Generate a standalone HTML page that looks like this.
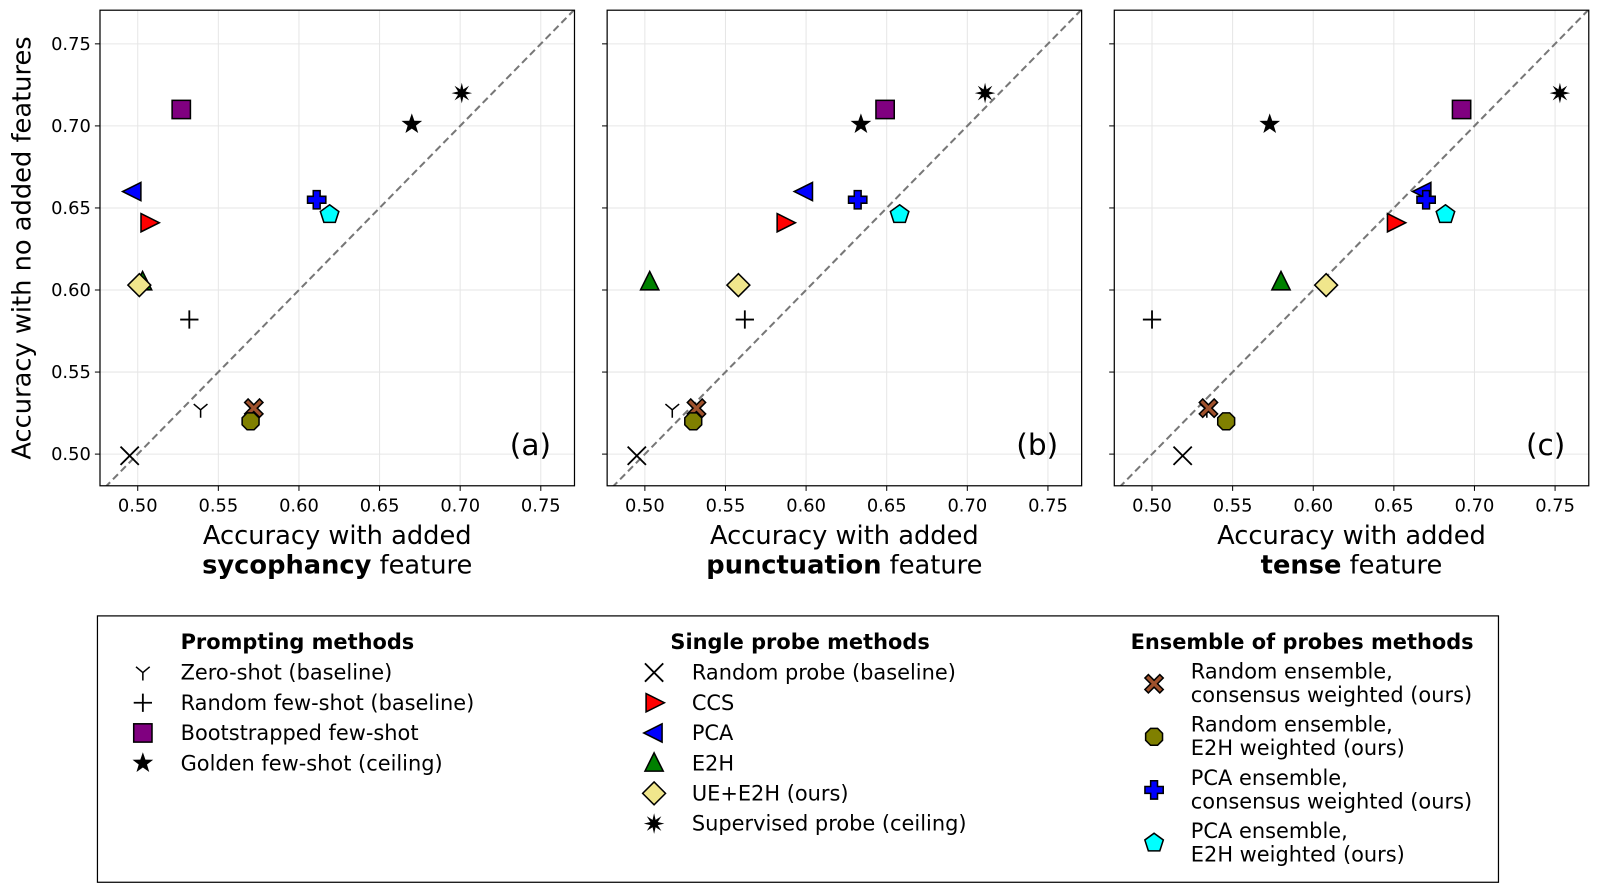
<!DOCTYPE html>
<html><head><meta charset="utf-8">
<style>
body{margin:0;background:#fff;}
svg{display:block;font-family:"DejaVu Sans","Liberation Sans",sans-serif;}
</style></head>
<body>
<svg id="c" width="1600" height="894" viewBox="0 0 1568 876" preserveAspectRatio="none" xmlns="http://www.w3.org/2000/svg"></svg>
<script>
const methods = ["zero","fewshot","boot","golden","randprobe","ccs","pca","e2h","uee2h","sup","randens_c","randens_e","pcaens_c","pcaens_e"];
const panelTitles = ["sycophancy","punctuation","tense"];
const panelTags = ["(a)","(b)","(c)"];
const xsA = [0.539,0.532,0.527,0.670,0.495,0.507,0.497,0.503,0.501,0.701,0.572,0.570,0.611,0.619];
const ysA = [0.527,0.582,0.710,0.701,0.499,0.641,0.660,0.605,0.603,0.720,0.528,0.520,0.655,0.646];
const xsB = [0.517,0.562,0.649,0.634,0.495,0.587,0.599,0.503,0.558,0.711,0.532,0.530,0.632,0.658];
const ysB = [0.527,0.582,0.710,0.701,0.499,0.641,0.660,0.605,0.603,0.720,0.528,0.520,0.655,0.646];
const xsC = [0.534,0.500,0.692,0.573,0.519,0.651,0.668,0.580,0.608,0.753,0.535,0.546,0.670,0.682];
const ysC = [0.527,0.582,0.710,0.701,0.499,0.641,0.660,0.605,0.603,0.720,0.528,0.520,0.655,0.646];
const ticks = [0.50,0.55,0.60,0.65,0.70,0.75];
const tickLabels = ["0.50","0.55","0.60","0.65","0.70","0.75"];

const NS="http://www.w3.org/2000/svg";
const svg=document.getElementById('c');
function mk(tag,attrs,parent){const e=document.createElementNS(NS,tag);for(const k in attrs)e.setAttribute(k,attrs[k]);(parent||svg).appendChild(e);return e;}
function txt(s,attrs,parent){const e=mk('text',attrs,parent);e.textContent=s;return e;}

function poly(pts){return pts.map(p=>p.join(',')).join(' ');}
function marker(type,cx,cy,g,s){
  s=s||1.12;
  const st={stroke:'#000','stroke-width':1.5};
  let e;
  if(type==='zero'){
    e=mk('path',{d:`M${cx},${cy} L${cx},${cy+7*s} M${cx},${cy} L${cx-6*s},${cy-5*s} M${cx},${cy} L${cx+6*s},${cy-5*s}`,stroke:'#000','stroke-width':1.5,fill:'none'},g);
  }else if(type==='fewshot'){
    e=mk('path',{d:`M${cx-8*s},${cy} L${cx+8*s},${cy} M${cx},${cy-8*s} L${cx},${cy+8*s}`,stroke:'#000','stroke-width':1.8,fill:'none'},g);
  }else if(type==='boot'){
    e=mk('rect',Object.assign({x:cx-8*s,y:cy-8*s,width:16*s,height:16*s,fill:'#800080'},st),g);
  }else if(type==='golden'){
    const p=[];for(let i=0;i<10;i++){const r=i%2?3.8*s:9.5*s;const a=-Math.PI/2+i*Math.PI/5;p.push([cx+r*Math.cos(a),cy+r*Math.sin(a)]);}
    e=mk('polygon',{points:poly(p),fill:'#000'},g);
  }else if(type==='randprobe'){
    e=mk('path',{d:`M${cx-8*s},${cy-8*s} L${cx+8*s},${cy+8*s} M${cx-8*s},${cy+8*s} L${cx+8*s},${cy-8*s}`,stroke:'#000','stroke-width':1.8,fill:'none'},g);
  }else if(type==='ccs'){
    e=mk('polygon',Object.assign({points:poly([[cx-7*s,cy-8*s],[cx+9*s,cy],[cx-7*s,cy+8*s]]),fill:'#ff0000'},st),g);
  }else if(type==='pca'){
    e=mk('polygon',Object.assign({points:poly([[cx+7*s,cy-8*s],[cx-9*s,cy],[cx+7*s,cy+8*s]]),fill:'#0000ff'},st),g);
  }else if(type==='e2h'){
    e=mk('polygon',Object.assign({points:poly([[cx-8*s,cy+7*s],[cx,cy-9*s],[cx+8*s,cy+7*s]]),fill:'#008000'},st),g);
  }else if(type==='uee2h'){
    e=mk('polygon',Object.assign({points:poly([[cx,cy-10*s],[cx+10*s,cy],[cx,cy+10*s],[cx-10*s,cy]]),fill:'#f0e68c'},st),g);
  }else if(type==='sup'){
    const p=[];for(let i=0;i<16;i++){const r=i%2?3.5*s:9*s;const a=-Math.PI/2+i*Math.PI/8;p.push([cx+r*Math.cos(a),cy+r*Math.sin(a)]);}
    e=mk('polygon',{points:poly(p),fill:'#000'},g);
  }else if(type==='randens_c'){
    const a=3*s,b=8*s;
    e=mk('path',Object.assign({d:`M${cx},${cy-a} L${cx+b-a},${cy-b} L${cx+b},${cy-b+a} L${cx+a},${cy} L${cx+b},${cy+b-a} L${cx+b-a},${cy+b} L${cx},${cy+a} L${cx-b+a},${cy+b} L${cx-b},${cy+b-a} L${cx-a},${cy} L${cx-b},${cy-b+a} L${cx-b+a},${cy-b} Z`,fill:'#a0522d'},st),g);
  }else if(type==='randens_e'){
    const p=[];for(let i=0;i<8;i++){const a=Math.PI/8+i*Math.PI/4;p.push([cx+8*s*Math.cos(a),cy+8*s*Math.sin(a)]);}
    e=mk('polygon',Object.assign({points:poly(p),fill:'#808000'},st),g);
  }else if(type==='pcaens_c'){
    const a=3*s,b=8*s;
    e=mk('path',Object.assign({d:`M${cx-a},${cy-b} L${cx+a},${cy-b} L${cx+a},${cy-a} L${cx+b},${cy-a} L${cx+b},${cy+a} L${cx+a},${cy+a} L${cx+a},${cy+b} L${cx-a},${cy+b} L${cx-a},${cy+a} L${cx-b},${cy+a} L${cx-b},${cy-a} L${cx-a},${cy-a} Z`,fill:'#0000ff'},st),g);
  }else if(type==='pcaens_e'){
    const p=[];for(let i=0;i<5;i++){const a=-Math.PI/2+i*2*Math.PI/5;p.push([cx+8.5*s*Math.cos(a),cy+8.5*s*Math.sin(a)]);}
    e=mk('polygon',Object.assign({points:poly(p),fill:'#00ffff'},st),g);
  }
  
  
  return e;
}

const panels=[{x0:98,xs:xsA,ys:ysA},{x0:595,xs:xsB,ys:ysB},{x0:1092,xs:xsC,ys:ysC}];
const PW=465, PT=10, PB=476;
const XMIN=0.4766, XMAX=0.7709, YMIN=0.4807, YMAX=0.7705;
panels.forEach((p,pi)=>{
  const g=mk('g',{});
  
  
  const X=v=>p.x0+(v-XMIN)/(XMAX-XMIN)*PW;
  const Y=v=>PB-(v-YMIN)/(YMAX-YMIN)*(PB-PT);
  const clipId='clip'+pi;
  const cp=mk('clipPath',{id:clipId},g);mk('rect',{x:p.x0,y:PT,width:PW,height:PB-PT},cp);
  ticks.forEach((t,i)=>{
    const gx=mk('line',{x1:X(t),x2:X(t),y1:PT,y2:PB,stroke:'#e6e6e6','stroke-width':1},g);
    
    const gy=mk('line',{x1:p.x0,x2:p.x0+PW,y1:Y(t),y2:Y(t),stroke:'#e6e6e6','stroke-width':1},g);
    
    mk('line',{x1:X(t),x2:X(t),y1:PB,y2:PB+5,stroke:'#000'},g);
    const tl=txt(tickLabels[i],{x:X(t),y:PB+25,'text-anchor':'middle','font-size':17.5},g);
    
    mk('line',{x1:p.x0-5,x2:p.x0,y1:Y(t),y2:Y(t),stroke:'#000'},g);
    if(pi===0){const yl=txt(tickLabels[i],{x:p.x0-9,y:Y(t)+6,'text-anchor':'end','font-size':17.5},g);
      }
  });
  const d=mk('line',{x1:X(0.47),y1:Y(0.47),x2:X(0.78),y2:Y(0.78),stroke:'#777','stroke-width':2,'stroke-dasharray':'7,4','clip-path':`url(#${clipId})`},g);
  
  const order=[4,1,0,7,8,10,11,6,5,2,12,13,3,9];
  order.forEach(i=>marker(methods[i],X(p.xs[i]),Y(p.ys[i]),g));
  const fr=mk('rect',{x:p.x0,y:PT,width:PW,height:PB-PT,fill:'none',stroke:'#000','stroke-width':1.2},g);
  
  const tag=txt(panelTags[pi],{x:p.x0+442,y:446,'text-anchor':'end','font-size':29},g);
  
  const cx=p.x0+PW/2;
  const l1=txt('Accuracy with added',{x:cx,y:533,'text-anchor':'middle','font-size':25.2},g);
  
  const l2=mk('text',{x:cx,y:562,'text-anchor':'middle','font-size':25.2},g);
  
  const b=mk('tspan',{'font-weight':'bold'},l2);b.textContent=panelTitles[pi];
  const r=mk('tspan',{},l2);r.textContent=' feature';
});
const yt=txt('Accuracy with no added features',{x:0,y:0,'text-anchor':'middle','font-size':25.2,transform:'translate(30,243) rotate(-90)'});


// legend
const lg=mk('g',{});

mk('rect',{x:95.5,y:603.5,width:1373,height:261,fill:'#fff',stroke:'#000','stroke-width':1.2},lg);
const heads=[["Prompting methods",177],["Single probe methods",657],["Ensemble of probes methods",1108]];
heads.forEach(h=>{const t=txt(h[0],{x:h[1],y:636,'font-size':20.5,'font-weight':'bold'},lg);
  });
const c1=[["zero","Zero-shot (baseline)"],["fewshot","Random few-shot (baseline)"],["boot","Bootstrapped few-shot"],["golden","Golden few-shot (ceiling)"]];
c1.forEach((e,i)=>{const y=659+i*29.6;marker(e[0],140,y,lg);
  const t=txt(e[1],{x:177,y:y+7,'font-size':20.5},lg);});
const c2=[["randprobe","Random probe (baseline)"],["ccs","CCS"],["pca","PCA"],["e2h","E2H"],["uee2h","UE+E2H (ours)"],["sup","Supervised probe (ceiling)"]];
c2.forEach((e,i)=>{const y=659+i*29.6;marker(e[0],641,y,lg);
  const t=txt(e[1],{x:678,y:y+7,'font-size':20.5},lg);});
const c3=[["randens_c","Random ensemble,","consensus weighted (ours)"],["randens_e","Random ensemble,","E2H weighted (ours)"],["pcaens_c","PCA ensemble,","consensus weighted (ours)"],["pcaens_e","PCA ensemble,","E2H weighted (ours)"]];
c3.forEach((e,i)=>{const y=670+i*52;marker(e[0],1131,y,lg);
  const t1=txt(e[1],{x:1167,y:y-5,'font-size':20.5},lg);
  const t2=txt(e[2],{x:1167,y:y+18,'font-size':20.5},lg);});
</script>
</body></html>
